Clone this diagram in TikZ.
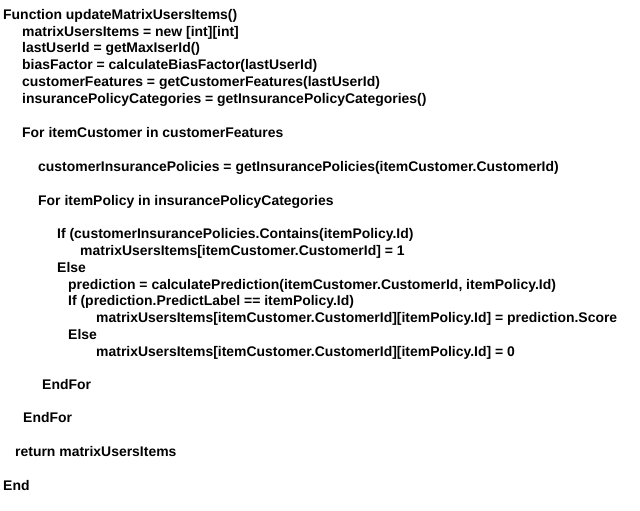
\documentclass[tikz,border=0pt]{standalone}
\usepackage{fontspec}
\setmainfont{Liberation Sans}
\begin{document}
\begin{tikzpicture}[x=1pt,y=-1pt,
  code/.style={anchor=base west,inner sep=0pt,font=\bfseries\fontsize{13.95}{16}\selectfont}]
\useasboundingbox[fill=white] (0,0) rectangle (640,511);
\node[code] (l1) at (3,20) {Function updateMatrixUsersItems()};
\node[code] (l2) at (22,37) {matrixUsersItems = new [int][int]};
\node[code] (l3) at (22,53) {lastUserId = getMaxIserId()};
\node[code] (l4) at (22,70) {biasFactor = calculateBiasFactor(lastUserId)};
\node[code] (l5) at (22,86) {customerFeatures = getCustomerFeatures(lastUserId)};
\node[code] (l6) at (22,103) {insurancePolicyCategories = getInsurancePolicyCategories()};
\node[code] (l7) at (22,137) {For itemCustomer in customerFeatures};
\node[code] (l8) at (38,171) {customerInsurancePolicies = getInsurancePolicies(itemCustomer.CustomerId)};
\node[code] (l9) at (38,205) {For itemPolicy in insurancePolicyCategories};
\node[code] (l10) at (57,238) {If (customerInsurancePolicies.Contains(itemPolicy.Id)};
\node[code] (l11) at (80,255) {matrixUsersItems[itemCustomer.CustomerId] = 1};
\node[code] (l12) at (57,272) {Else};
\node[code] (l13) at (68,289) {prediction = calculatePrediction(itemCustomer.CustomerId, itemPolicy.Id)};
\node[code] (l14) at (68,305) {If (prediction.PredictLabel == itemPolicy.Id)};
\node[code] (l15) at (96,322) {matrixUsersItems[itemCustomer.CustomerId][itemPolicy.Id] = prediction.Score};
\node[code] (l16) at (68,339) {Else};
\node[code] (l17) at (96,356) {matrixUsersItems[itemCustomer.CustomerId][itemPolicy.Id] = 0};
\node[code] (l18) at (42,389) {EndFor};
\node[code] (l19) at (23,422) {EndFor};
\node[code] (l20) at (15,456) {return matrixUsersItems};
\node[code] (l21) at (3,490) {End};
\end{tikzpicture}
\end{document}
